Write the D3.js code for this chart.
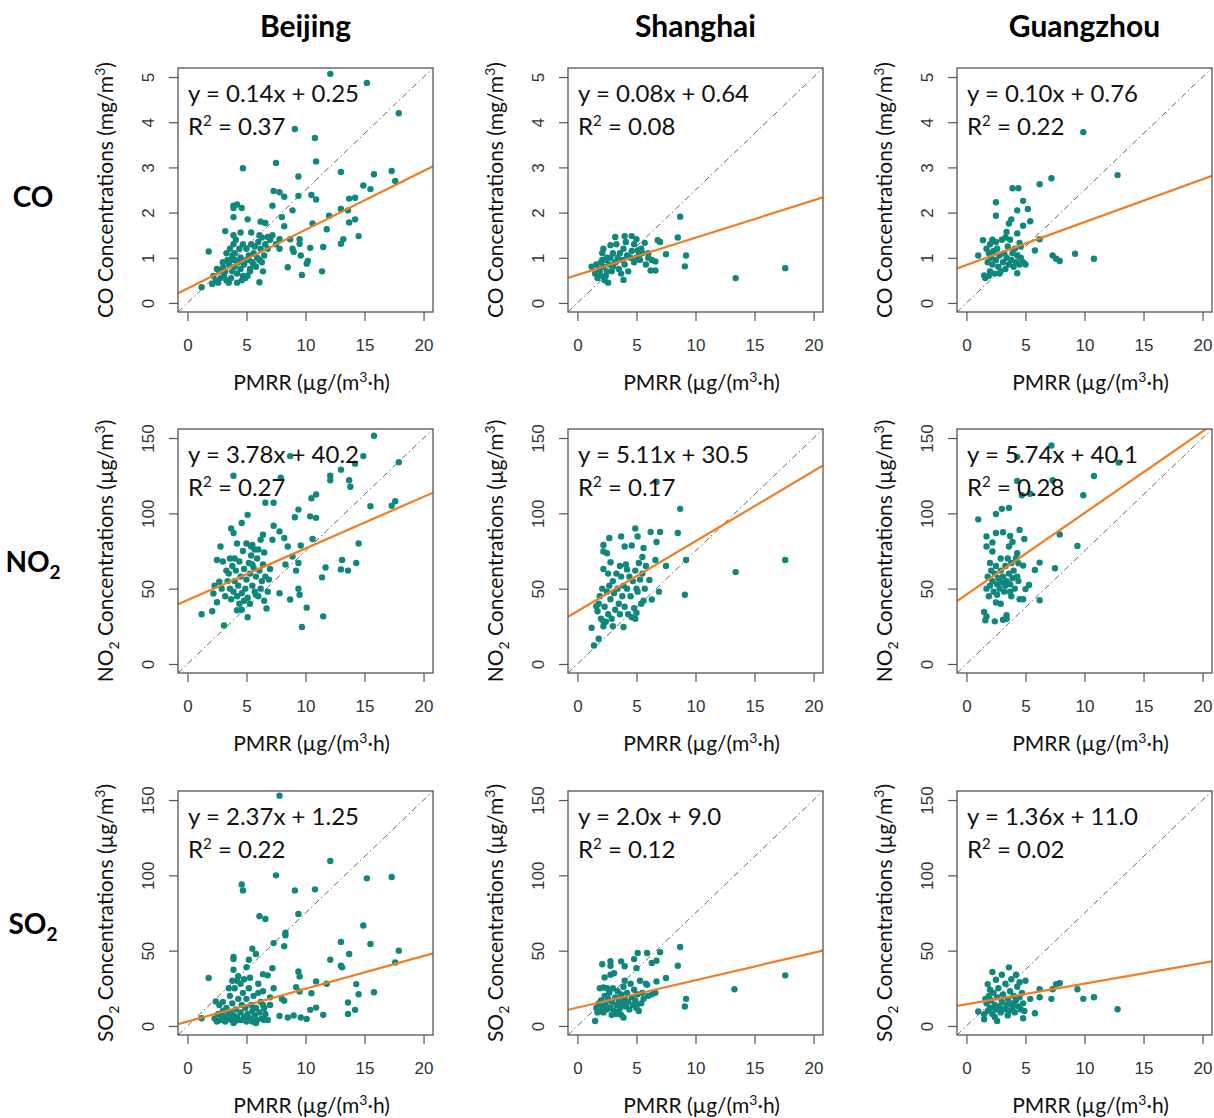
<!DOCTYPE html>
<html>
<head>
<meta charset="utf-8">
<script src="https://cdn.jsdelivr.net/npm/d3@7"></script>
<style>
  body { margin: 0; background: #fff; }
  svg { display: block; }
</style>
</head>
<body>
<div id="chart"></div>
<script>
// Cities (columns) and pollutants (rows)
const cities = ['Beijing', 'Shanghai', 'Guangzhou'];
const pollutants = ['CO', 'NO2', 'SO2'];

// Axis ticks
const xTicks = [0, 5, 10, 15, 20];
const coTicks = [0, 1, 2, 3, 4, 5];
const ugTicks = [0, 50, 100, 150];

// Equation text per panel, row by row
const equations = [
  ['y = 0.14x + 0.25', 'y = 0.08x + 0.64', 'y = 0.10x + 0.76'],
  ['y = 3.78x + 40.2', 'y = 5.11x + 30.5', 'y = 5.74x + 40.1'],
  ['y = 2.37x + 1.25', 'y = 2.0x + 9.0', 'y = 1.36x + 11.0']
];
const r2Values = [
  ['0.37', '0.08', '0.22'],
  ['0.27', '0.17', '0.28'],
  ['0.22', '0.12', '0.02']
];

// Fitted lines as drawn: [slope, intercept]
const fitLines = [
  [[0.13, 0.32], [0.0825, 0.62], [0.095, 0.84]],
  [[3.43, 42.4], [4.65, 35.0], [5.42, 46.0]],
  [[2.18, 2.9], [1.82, 12.2], [1.37, 14.4]]
];

// 1:1 reference (corner to corner of the plot region)
const refSlope = [0.25, 7.5, 7.5];

// Scatter points [PMRR, concentration]
const beijingCO = [
  [12.1,5.07],[15.2,4.87],[17.9,4.2],[9.1,3.85],[10.8,3.65],[4.7,2.98],[7.5,3.1],[10.9,3.13],[9.4,2.8],[13.0,2.9],
  [15.8,2.85],[17.3,2.92],[17.6,2.7],[14.9,2.6],[15.5,2.52],[7.3,2.48],[7.8,2.45],[8.2,2.35],[9.4,2.37],[10.5,2.39],
  [10.9,2.29],[13.7,2.31],[14.2,2.33],[7.2,2.15],[8.9,2.05],[3.9,2.15],[4.2,2.18],[3.9,2.1],[4.6,2.1],[3.9,1.9],
  [8.0,1.9],[12.0,1.93],[13.0,2.08],[13.6,2.05],[14.2,1.85],[13.7,1.78],[5.1,1.85],[6.2,1.8],[6.6,1.77],[8.2,1.7],
  [10.6,1.76],[3.2,1.59],[11.8,1.63],[14.5,1.48],[1.8,1.14],[3.9,1.5],[4.5,1.56],[5.4,1.56],[6.1,1.5],[6.8,1.46],
  [7.8,1.41],[8.7,1.41],[9.5,1.41],[9.5,1.31],[13.2,1.41],[13.0,1.31],[8.9,1.2],[7.8,1.2],[9.0,1.13],[9.6,1.05],
  [10.4,1.22],[11.5,1.24],[10.2,0.93],[10.1,0.87],[8.5,0.79],[11.4,0.7],[9.7,0.62],[6.1,0.46],[1.2,0.35],[2.1,0.42],
  [2.5,0.75],[2.7,0.7],[3.0,0.78],[2.4,0.5],[2.8,0.55],[3.1,0.6],[3.3,0.5],[3.5,0.45],[3.2,0.7],[3.5,0.85],
  [3.7,0.95],[3.8,1.05],[4.0,1.1],[4.0,0.8],[4.2,0.65],[4.3,0.9],[4.5,1.0],[4.5,0.75],[4.7,0.6],[4.8,0.85],
  [5.0,0.95],[5.0,1.2],[5.2,1.05],[5.3,0.7],[5.4,1.3],[5.5,0.9],[5.6,1.1],[5.7,1.25],[5.8,0.8],[5.9,1.0],
  [6.0,1.35],[6.1,0.95],[6.2,1.2],[6.3,1.45],[6.4,0.7],[6.5,1.05],[6.6,1.3],[3.6,1.2],[3.9,1.3],[4.1,1.4],
  [4.4,1.2],[4.6,0.5],[4.9,0.55],[5.1,0.6],[5.3,0.75],[3.4,0.95],[3.0,0.9],[2.2,0.6],[2.6,0.45],[3.7,0.55],
  [4.2,0.45],[5.6,0.85],[6.3,0.9],[6.8,1.2],[7.0,1.4],[7.5,1.3],[7.2,1.5],[4.7,1.3],[5.2,0.95],[4.0,0.95],
  [3.3,1.1],[3.8,0.7]
];
const shanghaiCO = [
  [8.7,1.91],[8.5,1.45],[9.2,1.05],[9.1,0.81],[13.4,0.55],[17.6,0.77],[7.5,1.08],[6.8,1.39],[7.0,1.35],[5.7,1.33],
  [6.6,0.92],[6.2,0.72],[6.6,0.72],[3.2,1.46],[4.0,1.48],[4.6,1.48],[5.0,1.41],[3.9,0.51],[2.8,1.28],[5.1,1.16],
  [6.0,1.1],[1.2,0.8],[1.5,0.65],[1.7,0.55],[1.8,0.75],[2.0,0.9],[2.0,0.6],[2.1,1.1],[2.2,0.8],[2.3,0.5],
  [2.4,0.95],[2.5,0.7],[2.6,0.45],[2.7,0.85],[2.8,1.0],[2.9,0.7],[3.0,0.8],[3.0,1.1],[3.2,0.9],[3.4,1.0],
  [3.5,0.75],[3.6,1.1],[3.8,0.95],[3.9,1.2],[4.0,0.85],[4.2,1.05],[4.3,0.7],[4.5,1.0],[4.6,1.15],[4.8,0.9],
  [5.0,1.0],[5.2,1.05],[5.3,0.95],[5.5,1.1],[5.8,0.85],[6.0,1.0],[6.3,0.95],[1.6,0.85],[2.2,1.2],[3.3,1.3],
  [4.1,1.35],[4.8,1.3],[5.4,1.2],[2.5,1.0],[3.7,0.65],[1.9,0.7],[2.1,0.95],[2.4,0.6]
];
const guangzhouCO = [
  [9.9,3.78],[12.8,2.83],[7.2,2.76],[6.2,2.63],[3.9,2.54],[4.4,2.54],[2.5,2.23],[4.8,2.26],[5.2,2.08],[5.4,1.81],
  [2.5,1.93],[4.3,2.05],[3.8,1.85],[3.6,1.76],[3.4,1.57],[4.8,1.71],[4.3,1.54],[4.5,1.33],[6.2,1.41],[5.8,1.16],
  [7.3,1.05],[7.6,0.98],[7.9,0.93],[9.2,1.09],[10.8,0.98],[1.4,1.39],[1.0,1.05],[4.3,0.66],[1.5,0.61],[1.7,1.2],
  [1.8,0.9],[1.9,1.1],[2.0,0.7],[2.0,1.3],[2.1,1.0],[2.2,0.85],[2.3,1.15],[2.4,0.65],[2.5,0.95],[2.6,1.2],
  [2.7,0.8],[2.8,1.05],[2.9,0.7],[3.0,1.4],[3.1,0.9],[3.2,1.1],[3.3,0.75],[3.4,1.0],[3.5,1.25],[3.6,0.85],
  [3.7,1.4],[3.8,0.95],[3.9,1.1],[4.0,0.8],[4.1,1.2],[4.2,0.9],[4.3,1.05],[4.5,0.85],[4.6,1.0],[4.8,0.9],
  [5.0,0.85],[1.6,0.55],[2.2,1.4],[2.5,1.35],[3.3,1.45],[4.6,1.25],[1.9,0.6],[2.8,0.65]
];
const beijingNO2 = [
  [15.8,151.5],[14.9,138],[8.7,138],[3.9,125],[7.9,123.6],[12.1,125],[12.1,122],[13.0,129],[13.7,122],[13.8,117.7],
  [14.2,133],[17.9,134],[10.9,112.5],[10.5,110],[6.6,107],[7.3,107],[9.4,102.5],[10.4,98],[9.1,97.4],[10.9,97],
  [15.5,104.7],[17.3,105],[17.6,108],[5.1,99],[3.7,90],[3.9,87],[4.6,93.6],[7.3,91.8],[7.8,88],[8.2,83.6],
  [8.5,78],[9.6,78.7],[10.6,83],[14.5,80],[7.2,82.5],[6.4,85.8],[6.2,82.5],[5.4,78],[5.7,76],[11.7,64],
  [13.0,62.8],[13.6,62],[13.1,69],[14.3,67],[11.4,57.5],[11.5,31.6],[9.7,24.5],[10.1,37.4],[9.4,50],[9.5,46],
  [8.7,42.8],[9.2,62],[9.4,67],[8.9,71.3],[8.3,66],[1.2,33],[2.1,35],[2.8,78],[2.5,69],[2.7,54.6],
  [2.3,52],[2.2,46.8],[2.5,41],[3.1,25.6],[4.2,35.7],[5.1,31],[6.7,36.8],[7.8,47],[5.3,40],[3.2,45],
  [3.4,55],[3.5,60],[3.6,50],[3.8,65],[3.9,48],[4.0,70],[4.0,55],[4.1,62],[4.2,45],[4.3,52],
  [4.4,68],[4.5,58],[4.6,47],[4.7,75],[4.8,63],[4.9,50],[5.0,56],[5.1,44],[5.2,67],[5.3,60],
  [5.4,72],[5.5,52],[5.6,64],[5.7,48],[5.8,58],[5.9,70],[6.0,45],[6.1,62],[6.2,50],[6.3,55],
  [6.4,66],[6.5,42],[6.6,58],[6.8,48],[7.0,63],[3.7,43],[4.4,40],[5.0,80],[5.5,79],[6.0,76],
  [3.3,62],[3.0,68],[2.9,50],[4.8,42],[5.8,46],[6.5,74],[3.6,70],[4.2,80],[4.6,36],[5.5,66],
  [6.9,56]
];
const shanghaiNO2 = [
  [6.7,121],[8.7,103],[8.5,87],[9.2,69],[9.1,46],[13.4,61],[17.6,69],[7.0,87.6],[6.2,87.6],[4.9,90],
  [5.1,84.7],[3.7,84.7],[2.7,83.6],[2.2,79],[2.2,74.7],[2.5,73.5],[4.6,78.7],[5.6,77],[6.7,81],[7.5,65],
  [6.6,69],[5.5,71],[4.0,78],[6.9,48],[2.8,67.5],[2.2,63],[3.6,65],[4.2,62.8],[6.1,55.7],[6.3,42.8],
  [5.6,42],[1.2,24],[2.2,28.3],[1.8,16.7],[1.4,12.3],[3.9,24.5],[1.6,38.3],[1.7,35],[1.8,40],[1.9,45],
  [2.0,30],[2.1,50],[2.3,38],[2.4,28],[2.5,48],[2.6,33],[2.7,52],[2.8,43],[2.9,30],[3.0,55],
  [3.1,47],[3.2,36],[3.3,60],[3.4,50],[3.5,40],[3.6,33],[3.7,58],[3.8,45],[3.9,52],[4.0,38],
  [4.1,66],[4.2,50],[4.3,33],[4.4,58],[4.5,45],[4.6,31],[4.7,55],[4.8,37],[4.9,62],[5.0,34],
  [5.1,48],[5.2,67],[5.3,56],[5.4,40],[5.5,60],[5.7,50],[5.8,65],[2.2,25],[2.6,60],[3.0,25],
  [4.9,30],[5.0,50]
];
const guangzhouNO2 = [
  [7.2,145],[4.3,137.5],[12.9,133.7],[10.8,124.8],[4.3,121.5],[7.3,122],[9.9,112],[4.7,112],[5.4,113],[1.0,96],
  [2.5,99.6],[3.0,103],[3.6,103.6],[7.9,86],[9.4,78.4],[7.5,63.5],[4.5,89],[4.9,83],[1.7,84.7],[1.7,78],
  [2.5,87],[2.2,80.7],[2.2,74.7],[3.1,87.4],[3.7,85],[3.9,81],[3.6,78],[4.3,73.5],[5.8,62.4],[6.2,67.3],
  [6.2,42.3],[4.5,43],[4.8,43],[5.0,49.7],[5.3,52.4],[3.7,48],[2.9,40],[2.5,40.8],[1.5,34.5],[1.7,31.6],
  [1.6,29],[2.4,28.3],[3.1,29.4],[3.4,30],[3.4,32.3],[4.4,66.9],[4.8,65.3],[1.8,58],[2.0,52],[2.1,62],
  [2.2,55],[2.3,48],[2.4,60],[2.5,65],[2.6,53],[2.7,57],[2.8,50],[2.9,62],[3.0,54],[3.1,58],
  [3.2,48],[3.3,65],[3.4,55],[3.5,70],[3.6,60],[3.7,53],[3.8,67],[3.9,57],[4.0,62],[4.1,50],
  [4.2,70],[4.3,58],[1.9,45],[2.6,46],[3.3,52],[3.8,45],[4.4,55],[2.0,67],[2.9,70],[1.7,50]
];
const beijingSO2 = [
  [7.8,152.9],[12.1,109.6],[7.5,100],[15.2,98],[17.3,98.9],[4.6,94],[4.7,90],[9.1,90],[10.8,90.7],[9.4,74.4],
  [6.1,72.9],[6.6,71],[14.9,66.7],[8.3,62],[8.3,60.2],[8.2,53],[7.3,55],[13.0,55.8],[15.5,54.4],[17.9,50],
  [5.5,51.3],[5.8,47.8],[5.2,44],[12.1,44],[13.0,40],[13.1,38.9],[13.7,47.8],[17.6,42.2],[3.9,45.8],[3.9,44.4],
  [1.8,31.8],[3.9,37.3],[5.0,39],[7.2,38.4],[6.4,34.4],[6.8,33.6],[9.4,36.2],[9.5,32.9],[14.3,27.8],[14.5,21.1],
  [15.8,22.4],[13.6,15.6],[13.6,8],[14.2,10.7],[10.9,29.6],[10.5,21.8],[11.8,28],[10.9,12.2],[10.4,10.7],[10.1,4.7],
  [11.5,7.3],[8.0,18],[8.2,16.7],[8.5,5.6],[9.0,6.9],[9.6,5.6],[7.8,6.7],[7.0,14],[6.4,14],[7.3,25],
  [9.5,22.9],[9.2,25.8],[1.2,5.1],[2.4,16.2],[2.3,5],[2.5,3],[2.6,8],[2.8,4],[3.0,10],[3.1,6],
  [3.2,3],[3.3,12],[3.4,5],[3.5,8],[3.6,20],[3.7,4],[3.8,15],[3.9,7],[4.0,25],[4.0,3],
  [4.1,11],[4.2,30],[4.2,6],[4.3,18],[4.4,4],[4.5,9],[4.5,28],[4.6,14],[4.7,22],[4.8,6],
  [4.9,12],[5.0,3],[5.0,18],[5.1,8],[5.2,25],[5.3,5],[5.4,14],[5.5,10],[5.5,3],[5.6,20],
  [5.7,7],[5.8,12],[5.9,4],[6.0,22],[6.1,9],[6.2,16],[6.3,5],[6.4,23],[6.5,12],[6.6,8],
  [6.8,4],[7.0,19],[3.8,30],[4.3,33],[3.5,25],[3.0,16],[2.7,14],[4.8,31],[5.3,32],[6.0,28],
  [6.5,4],[3.9,2],[4.6,4],[5.8,2],[2.9,7],[3.6,9]
];
const shanghaiSO2 = [
  [8.7,52.4],[8.5,40],[9.2,18],[9.1,12.9],[13.3,24.4],[17.6,33.6],[7.0,49],[5.9,48.4],[5.1,48.4],[7.5,31.8],
  [6.7,29.6],[6.3,41.8],[6.7,43.3],[5.9,27.3],[2.1,41],[2.8,43],[2.8,40],[3.7,42.9],[4.0,39.6],[4.8,44.4],
  [5.0,38.4],[2.3,32.2],[2.8,34],[3.1,35],[2.2,25.6],[1.9,25],[1.5,3.3],[2.9,7.3],[3.7,7.3],[3.9,5.6],
  [3.5,9.6],[1.6,12],[1.8,15],[1.9,10],[2.0,17],[2.1,13],[2.2,9],[2.3,20],[2.4,14],[2.5,11],
  [2.6,18],[2.7,22],[2.8,12],[2.9,16],[3.0,25],[3.1,10],[3.2,19],[3.3,14],[3.4,23],[3.5,17],
  [3.6,12],[3.7,21],[3.8,15],[3.9,26],[4.0,18],[4.1,13],[4.2,22],[4.3,16],[4.4,11],[4.5,28],
  [4.6,19],[4.7,14],[4.8,24],[4.9,17],[5.0,12],[5.1,21],[5.2,10],[5.3,30],[5.4,15],[5.5,22],
  [5.6,18],[6.0,20],[6.3,21],[6.6,22],[5.8,28],[2.5,25],[4.0,30],[1.7,9],[5.0,14],[3.3,8]
];
const guangzhouSO2 = [
  [12.8,11.1],[10.8,19.1],[9.9,18],[9.4,24.4],[7.9,28.4],[7.6,27.8],[7.3,24.4],[7.2,18],[6.2,24.4],[6.2,19.1],
  [5.8,8.4],[5.4,18],[4.8,5.1],[3.6,38.9],[2.2,35.8],[3.0,34],[4.2,34],[5.0,30],[2.5,30.7],[1.8,27.8],
  [1.0,9.6],[1.5,4.4],[2.6,3.3],[1.5,7.8],[1.7,15],[1.8,10],[1.9,20],[2.0,12],[2.1,17],[2.2,8],
  [2.3,22],[2.4,14],[2.5,11],[2.6,19],[2.7,25],[2.8,13],[2.9,9],[3.0,16],[3.1,21],[3.2,11],
  [3.3,28],[3.4,14],[3.5,18],[3.6,10],[3.7,23],[3.8,15],[3.9,12],[4.0,20],[4.1,9],[4.2,17],
  [4.3,26],[4.4,13],[4.5,19],[4.6,11],[4.7,22],[4.8,15],[4.9,10],[2.0,24],[3.0,11],[3.5,7],
  [4.0,14],[2.4,6],[4.5,29],[3.8,31],[1.6,18]
];

const panelData = [
  [beijingCO, shanghaiCO, guangzhouCO],
  [beijingNO2, shanghaiNO2, guangzhouNO2],
  [beijingSO2, shanghaiSO2, guangzhouSO2]
];

// Layout
const width = 1214, height = 1118;
const boxLeft = [178, 568, 957];
const boxTop = [68, 429, 791];
const boxW = 255, boxH = 244;

const teal = '#0f877c';
const orange = '#f07d24';
const textFont = 'Lato, "Open Sans", sans-serif';
const tickFont = '"Liberation Sans", Arial, sans-serif';

const svg = d3.select('#chart')
  .append('svg')
    .attr('width', width)
    .attr('height', height);

// Column titles
svg.append('g')
  .selectAll('text')
  .data(cities)
  .join('text')
    .attr('x', (d, i) => boxLeft[i] + boxW / 2)
    .attr('y', 37)
    .attr('text-anchor', 'middle')
    .attr('font-family', textFont)
    .attr('font-weight', 700)
    .attr('font-size', 30)
    .attr('fill', '#000')
    .text(d => d);

// Row labels with subscripts
const rowBase = [207, 572, 934];
pollutants.forEach((p, r) => {
  const t = svg.append('text')
    .attr('x', 33)
    .attr('y', rowBase[r])
    .attr('text-anchor', 'middle')
    .attr('font-family', textFont)
    .attr('font-weight', 700)
    .attr('font-size', 28)
    .attr('fill', '#000');
  if (p === 'CO') {
    t.text('CO');
  } else {
    t.append('tspan').text(p.slice(0, 2));
    t.append('tspan').attr('font-size', 19).attr('dy', 7).text('2');
  }
});

// y label pieces: [prefix, subscript, suffix]
const yLabel = r => r === 0
  ? ['CO', '', ' Concentrations (mg/m']
  : [pollutants[r].slice(0, 2), '2', ' Concentrations (µg/m'];

let clipId = 0;
for (let r = 0; r < 3; r++) {
  for (let c = 0; c < 3; c++) {
    const left = boxLeft[c], top = boxTop[r];
    const x = d3.scaleLinear().domain([-0.8, 20.8]).range([left, left + boxW]);
    const y = r === 0
      ? d3.scaleLinear().domain([-0.2, 5.2]).range([top + boxH, top])
      : d3.scaleLinear().domain([-6, 156]).range([top + boxH, top]);
    const yTicks = r === 0 ? coTicks : ugTicks;

    const g = svg.append('g');
    const id = 'clip' + (clipId++);
    g.append('clipPath').attr('id', id)
      .append('rect')
        .attr('x', left).attr('y', top)
        .attr('width', boxW).attr('height', boxH);

    // Axes
    const xAxis = g.append('g')
      .attr('transform', `translate(0,${top + boxH})`)
      .call(d3.axisBottom(x).tickValues(xTicks).tickFormat(d3.format('d'))
        .tickSize(9).tickPadding(18).tickSizeOuter(0));
    const yAxis = g.append('g')
      .attr('transform', `translate(${left},0)`)
      .call(d3.axisLeft(y).tickValues(yTicks).tickFormat(d3.format('d'))
        .tickSize(9).tickSizeOuter(0));
    [xAxis, yAxis].forEach(a => {
      a.select('.domain').remove();
      a.selectAll('line').attr('stroke', '#555').attr('stroke-width', 1.2);
      a.selectAll('text')
        .attr('font-family', tickFont)
        .attr('font-size', 17)
        .attr('fill', '#333');
    });
    yAxis.selectAll('text')
      .attr('transform', 'rotate(-90)')
      .attr('x', 0)
      .attr('y', -30)
      .attr('dy', '0.35em')
      .attr('text-anchor', 'middle');

    const plot = g.append('g').attr('clip-path', `url(#${id})`);

    // 1:1 dash-dot reference
    plot.append('line')
      .attr('x1', x(-0.8)).attr('y1', y(-0.8 * refSlope[r]))
      .attr('x2', x(20.8)).attr('y2', y(20.8 * refSlope[r]))
      .attr('stroke', '#666')
      .attr('stroke-width', 1)
      .attr('stroke-dasharray', '6,3,1.5,3');

    // Points
    plot.append('g')
      .selectAll('circle')
      .data(panelData[r][c])
      .join('circle')
        .attr('cx', d => x(d[0]))
        .attr('cy', d => y(d[1]))
        .attr('r', 3.2)
        .attr('fill', teal);

    // Fitted line
    const [m, b] = fitLines[r][c];
    plot.append('line')
      .attr('x1', x(-0.8)).attr('y1', y(m * -0.8 + b))
      .attr('x2', x(20.8)).attr('y2', y(m * 20.8 + b))
      .attr('stroke', orange)
      .attr('stroke-width', 2.2);

    // Box
    g.append('rect')
      .attr('x', left).attr('y', top)
      .attr('width', boxW).attr('height', boxH)
      .attr('fill', 'none')
      .attr('stroke', '#555')
      .attr('stroke-width', 1.3);

    // Equation and R²
    g.append('text')
      .attr('x', left + 10).attr('y', top + 34)
      .attr('font-family', textFont).attr('font-size', 24).attr('fill', '#111')
      .text(equations[r][c]);
    const r2 = g.append('text')
      .attr('x', left + 10).attr('y', top + 67)
      .attr('font-family', textFont).attr('font-size', 24).attr('fill', '#111');
    r2.append('tspan').text('R');
    r2.append('tspan').attr('font-size', 15).attr('dy', -9).text('2');
    r2.append('tspan').attr('dy', 9).text(' = ' + r2Values[r][c]);

    // x label
    const xl = g.append('text')
      .attr('x', left + boxW / 2 + 6).attr('y', top + boxH + 78)
      .attr('text-anchor', 'middle')
      .attr('font-family', textFont).attr('font-size', 21).attr('fill', '#111');
    xl.append('tspan').text('PMRR (µg/(m');
    xl.append('tspan').attr('font-size', 14).attr('dy', -8).text('3');
    xl.append('tspan').attr('dy', 8).text('·h)');

    // y label
    const [pre, sub, suf] = yLabel(r);
    const yl = g.append('text')
      .attr('transform', `translate(${left - 65},${top + boxH / 2}) rotate(-90)`)
      .attr('text-anchor', 'middle')
      .attr('font-family', textFont).attr('font-size', 21).attr('fill', '#111');
    yl.append('tspan').text(pre);
    if (sub) {
      yl.append('tspan').attr('font-size', 14).attr('dy', 6).text(sub);
      yl.append('tspan').attr('dy', -6).text(suf);
    } else {
      yl.append('tspan').text(suf);
    }
    yl.append('tspan').attr('font-size', 14).attr('dy', -8).text('3');
    yl.append('tspan').attr('dy', 8).text(')');
  }
}
</script>
</body>
</html>
